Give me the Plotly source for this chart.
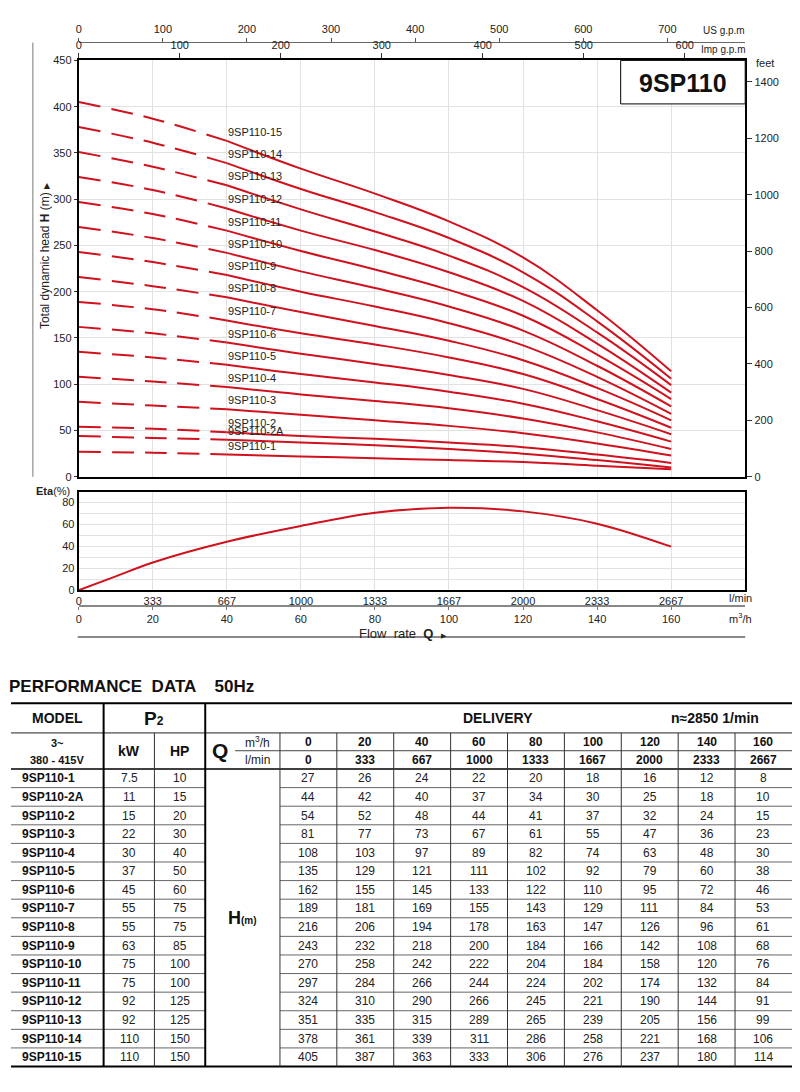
import plotly.graph_objects as go

W, H = 800, 1092


def px(x):
    return x / W


def py(y):
    return 1 - y / H


# ---------------- data ----------------
Q_M3H = [0, 20, 40, 60, 80, 100, 120, 140, 160]
Q_LMIN = [0, 333, 667, 1000, 1333, 1667, 2000, 2333, 2667]

MODELS = ["9SP110-1", "9SP110-2A", "9SP110-2", "9SP110-3", "9SP110-4", "9SP110-5",
          "9SP110-6", "9SP110-7", "9SP110-8", "9SP110-9", "9SP110-10", "9SP110-11",
          "9SP110-12", "9SP110-13", "9SP110-14", "9SP110-15"]
KW = ["7.5", "11", "15", "22", "30", "37", "45", "55", "55", "63", "75", "75", "92", "92", "110", "110"]
HP = ["10", "15", "20", "30", "40", "50", "60", "75", "75", "85", "100", "100", "125", "125", "150", "150"]

H_1 = [27, 26, 24, 22, 20, 18, 16, 12, 8]
H_2A = [44, 42, 40, 37, 34, 30, 25, 18, 10]
H_2 = [54, 52, 48, 44, 41, 37, 32, 24, 15]
H_3 = [81, 77, 73, 67, 61, 55, 47, 36, 23]
H_4 = [108, 103, 97, 89, 82, 74, 63, 48, 30]
H_5 = [135, 129, 121, 111, 102, 92, 79, 60, 38]
H_6 = [162, 155, 145, 133, 122, 110, 95, 72, 46]
H_7 = [189, 181, 169, 155, 143, 129, 111, 84, 53]
H_8 = [216, 206, 194, 178, 163, 147, 126, 96, 61]
H_9 = [243, 232, 218, 200, 184, 166, 142, 108, 68]
H_10 = [270, 258, 242, 222, 204, 184, 158, 120, 76]
H_11 = [297, 284, 266, 244, 224, 202, 174, 132, 84]
H_12 = [324, 310, 290, 266, 245, 221, 190, 144, 91]
H_13 = [351, 335, 315, 289, 265, 239, 205, 156, 99]
H_14 = [378, 361, 339, 311, 286, 258, 221, 168, 106]
H_15 = [405, 387, 363, 333, 306, 276, 237, 180, 114]
HEADS = [H_1, H_2A, H_2, H_3, H_4, H_5, H_6, H_7, H_8, H_9, H_10, H_11, H_12, H_13, H_14, H_15]

ETA_Q = [0, 10, 20, 40, 60, 80, 100, 120, 140, 160]
ETA = [0, 12.6, 25.3, 44.2, 58.6, 70.7, 75.2, 71.9, 60.7, 39.7]

Y_TICKS = [0, 50, 100, 150, 200, 250, 300, 350, 400, 450]
FEET_TICKS = [0, 200, 400, 600, 800, 1000, 1200, 1400]
US_GPM_TICKS = [0, 100, 200, 300, 400, 500, 600, 700]
IMP_GPM_TICKS = [0, 100, 200, 300, 400, 500, 600]
ETA_TICKS = [0, 20, 40, 60, 80]

FT_PER_M = 3.28084
USG_PER_M3H = 4.402868
IMP_PER_M3H = 3.666154

RED = "#d0121e"
GRID = "#e2e2e2"
FONT = "Liberation Sans, Arial, sans-serif"
TXT = "#222"

fig = go.Figure()

annotations = []
shapes = []

# ---------------- head curves ----------------
for name, h in zip(MODELS, HEADS):
    fig.add_trace(go.Scatter(x=Q_M3H[:3], y=h[:3], mode="lines",
                             line=dict(color=RED, width=2, dash="22px,11px", shape="spline"),
                             xaxis="x", yaxis="y", showlegend=False, hoverinfo="skip"))
    fig.add_trace(go.Scatter(x=Q_M3H[2:], y=h[2:], mode="lines",
                             line=dict(color=RED, width=2, shape="spline", smoothing=1.2),
                             xaxis="x", yaxis="y", showlegend=False, hoverinfo="skip"))
    annotations.append(dict(x=Q_M3H[2], y=h[2], xref="x", yref="y", text=name,
                            showarrow=False, xanchor="left", yanchor="middle",
                            xshift=-1, yshift=9, font=dict(size=11, color=TXT)))

# eta curve
fig.add_trace(go.Scatter(x=ETA_Q, y=ETA, mode="lines",
                         line=dict(color=RED, width=2, shape="spline"),
                         xaxis="x4", yaxis="y3", showlegend=False, hoverinfo="skip"))

# placeholder traces so secondary axes render
for xa, ya in [("x2", "y"), ("x3", "y"), ("x", "y2"), ("x5", "y3")]:
    fig.add_trace(go.Scatter(x=[None], y=[None], xaxis=xa, yaxis=ya, mode="lines",
                             showlegend=False, hoverinfo="skip"))

tickfont = dict(size=11, color=TXT, family=FONT)
XDOM = [px(76), px(745)]

layout_axes = dict(
    xaxis=dict(domain=XDOM, range=[0, 180], anchor="y", tickvals=Q_M3H, showticklabels=False,
               ticks="", showgrid=True, gridcolor=GRID, showline=True, linecolor="black",
               linewidth=2, zeroline=False, fixedrange=True),
    yaxis=dict(domain=[py(476), py(55)], range=[0, 450], anchor="x", tickvals=Y_TICKS,
               ticks="outside", ticklen=3, tickcolor="#333", showline=True, linecolor="black",
               linewidth=2, showgrid=True, gridcolor=GRID, zeroline=False, tickfont=tickfont),
    yaxis2=dict(overlaying="y", side="right", anchor="x", range=[0, 450 * FT_PER_M],
                tickvals=FEET_TICKS, ticks="outside", ticklen=5, tickcolor="#333",
                showline=True, linecolor="black", linewidth=2, showgrid=False, zeroline=False,
                tickfont=tickfont),
    xaxis2=dict(overlaying="x", side="top", anchor="y", range=[0, 180 * IMP_PER_M3H],
                tickvals=IMP_GPM_TICKS, ticks="outside", ticklen=5, tickcolor="#333",
                showline=True, linecolor="black", linewidth=2, showgrid=False, zeroline=False,
                tickfont=tickfont),
    xaxis3=dict(overlaying="x", side="top", anchor="free", position=py(36),
                range=[0, 180 * USG_PER_M3H], tickvals=US_GPM_TICKS, ticks="outside",
                ticklen=4, tickcolor="#555", showline=True, linecolor="#666", linewidth=1,
                showgrid=False, zeroline=False, tickfont=tickfont),
    xaxis4=dict(domain=XDOM, range=[0, 180], anchor="y3", tickvals=Q_M3H,
                ticktext=[str(v) for v in Q_LMIN], ticks="", showgrid=True, gridcolor=GRID,
                showline=True, linecolor="black", linewidth=2, mirror=True, zeroline=False,
                tickfont=tickfont),
    yaxis3=dict(domain=[py(590.7), py(491.7)], anchor="x4", range=[0, 89.3],
                tickvals=ETA_TICKS, ticks="", showgrid=True, gridcolor=GRID,
                minor=dict(tickmode="linear", tick0=0, dtick=10, showgrid=True,
                           gridcolor=GRID, ticks=""),
                showline=True, linecolor="black", linewidth=2, mirror=True, zeroline=False,
                tickfont=tickfont),
    xaxis5=dict(overlaying="x4", anchor="free", position=py(607), side="bottom",
                range=[0, 180], tickvals=Q_M3H, ticks="outside", ticklen=3, tickcolor="#777",
                showline=True, linecolor="#888", linewidth=1.5, showgrid=False,
                zeroline=False, tickfont=tickfont),
)

# ---------------- chart decorations ----------------
def hline(x0, x1, y, w=1, color="black"):
    shapes.append(dict(type="line", xref="paper", yref="paper", x0=px(x0), x1=px(x1),
                       y0=py(y), y1=py(y), line=dict(color=color, width=w), layer="above"))


def vline(x, y0, y1, w=1, color="black"):
    shapes.append(dict(type="line", xref="paper", yref="paper", x0=px(x), x1=px(x),
                       y0=py(y0), y1=py(y1), line=dict(color=color, width=w), layer="above"))


def text(x, y, s, size=11, anchor="center", color=TXT, **kw):
    annotations.append(dict(x=px(x), y=py(y), xref="paper", yref="paper", text=s,
                            showarrow=False, xanchor=anchor, yanchor="middle",
                            font=dict(size=size, color=color, family=FONT), **kw))


vline(30, 37, 476, 1, "#777")
hline(75, 745, 638, 2, "#8a8a8a")

shapes.append(dict(type="rect", xref="paper", yref="paper", x0=px(620), x1=px(745),
                   y0=py(99), y1=py(55), line=dict(color="black", width=1),
                   fillcolor="white", layer="above"))
text(683, 78, "<b>9SP110</b>", size=25, color="#111")

text(747, 25, "US g.p.m", size=10, anchor="right")
text(747, 44, "Imp g.p.m", size=10, anchor="right")
text(765, 58, "feet", size=11)
text(42, 252, "Total dynamic head <b>H</b> (m) <span style='font-size:8px'>▶</span>",
     size=12, textangle=-90)
text(50, 490, "<b>Eta</b>(%)", size=11)
text(740, 599, "l/min", size=11)
text(740, 619, "m<sup>3</sup>/h", size=11)
text(402, 634, "Flow&nbsp; rate&nbsp; <b>Q</b> &nbsp;<span style='font-size:7px'>▶</span>",
     size=13)

# ---------------- table ----------------
text(8, 688, "<b>PERFORMANCE&nbsp; DATA &nbsp;&nbsp; 50Hz</b>", size=17, anchor="left",
     color="#111", xshift=-4)

T_LEFT, T_RIGHT = 8, 792
C_MODEL, C_KW, C_HP, C_QL, C_VAL0 = 101, 152, 203, 233, 278
COL_W = 57.1
VAL_EDGES = [C_VAL0 + COL_W * i for i in range(10)]
Y_TOP, Y_R1, Y_MID, Y_R2 = 705, 735, 753, 771.5
ROW_H = 18.8
Y_BOT = Y_R2 + ROW_H * len(MODELS)

hline(T_LEFT, T_RIGHT, Y_TOP, 2)
hline(T_LEFT, T_RIGHT, Y_R1, 1, "#222")
hline(C_QL, T_RIGHT, Y_MID, 1, "#444")
hline(T_LEFT, T_RIGHT, Y_R2, 1.5)
for i in range(1, len(MODELS)):
    yy = Y_R2 + ROW_H * i
    hline(T_LEFT, C_HP, yy, 1, "#666")
    hline(C_VAL0, T_RIGHT, yy, 1, "#666")
hline(T_LEFT, T_RIGHT, Y_BOT, 2)
vline(C_MODEL, Y_TOP, Y_BOT, 2)
vline(C_KW, Y_R1, Y_BOT, 1, "#333")
vline(C_HP, Y_TOP, Y_BOT, 2)
for xe in VAL_EDGES[:-1]:
    vline(xe, Y_R1, Y_BOT, 1, "#333")

text((T_LEFT + C_MODEL) / 2, (Y_TOP + Y_R1) / 2, "<b>MODEL</b>", size=14, color="#111")
text((C_MODEL + C_HP) / 2, (Y_TOP + Y_R1) / 2,
     "<b>P<span style='font-size:12px'>2</span></b>", size=19, color="#111")
text(497, (Y_TOP + Y_R1) / 2, "<b>DELIVERY</b>", size=14, color="#111")
text(715, (Y_TOP + Y_R1) / 2, "<b>n≈2850 1/min</b>", size=14, color="#111")

text((T_LEFT + C_MODEL) / 2, 745, "<b>3~</b>", size=11, color="#111")
text((T_LEFT + C_MODEL) / 2, 762, "<b>380 - 415V</b>", size=11, color="#111")
text((C_MODEL + C_KW) / 2, (Y_R1 + Y_R2) / 2, "<b>kW</b>", size=14, color="#111")
text((C_KW + C_HP) / 2, (Y_R1 + Y_R2) / 2, "<b>HP</b>", size=14, color="#111")
text((C_HP + C_QL) / 2, (Y_R1 + Y_R2) / 2, "<b>Q</b>", size=21, color="#111")
text(255, 744, "m<sup>3</sup>/h", size=12)
text(255, 762, "l/min", size=12)
for i in range(len(Q_M3H)):
    cx = (VAL_EDGES[i] + VAL_EDGES[i + 1]) / 2
    text(cx, 744, "<b>%d</b>" % Q_M3H[i], size=12, color="#111")
    text(cx, 762, "<b>%d</b>" % Q_LMIN[i], size=12, color="#111")

text((C_HP + C_VAL0) / 2, (Y_R2 + Y_BOT) / 2,
     "<b>H<span style='font-size:10px'>(m)</span></b>", size=18, color="#111")

for r, (name, kw, hp, h) in enumerate(zip(MODELS, KW, HP, HEADS)):
    cy = Y_R2 + ROW_H * (r + 0.5)
    text(21, cy, "<b>%s</b>" % name, size=12, anchor="left", color="#111", xshift=-4)
    text((C_MODEL + C_KW) / 2, cy, kw, size=12)
    text((C_KW + C_HP) / 2, cy, hp, size=12)
    for i, v in enumerate(h):
        cx = (VAL_EDGES[i] + VAL_EDGES[i + 1]) / 2
        text(cx, cy, str(v), size=12)

fig.update_layout(
    width=W, height=H, autosize=False,
    margin=dict(l=0, r=0, t=0, b=0, pad=0),
    paper_bgcolor="white", plot_bgcolor="white",
    font=dict(family=FONT, size=11, color=TXT),
    showlegend=False,
    annotations=annotations,
    shapes=shapes,
    **layout_axes,
)

fig.write_html("out.html")
